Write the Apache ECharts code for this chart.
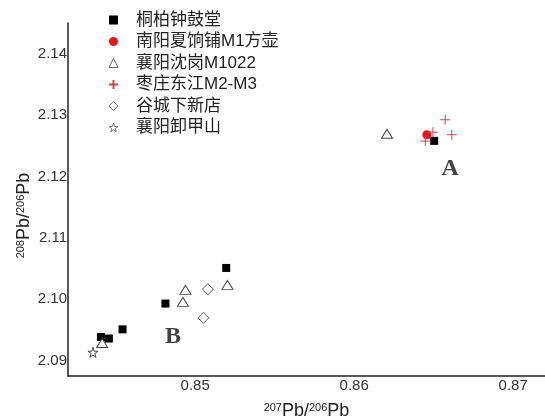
<!DOCTYPE html>
<html><head><meta charset="utf-8">
<script src="https://cdn.jsdelivr.net/npm/echarts@6/dist/echarts.min.js"></script>
<style>html,body{margin:0;padding:0;background:#fff}#c{width:545px;height:419px}</style>
</head><body><div id="c"></div>
<script>
var seriesNames = ['桐柏钟鼓堂','南阳夏饷铺M1方壶','襄阳沈岗M1022','枣庄东江M2-M3','谷城下新店','襄阳卸甲山'];
var tongbai = [[0.84407,2.09385],[0.84457,2.0936],[0.84543,2.0951],[0.84813,2.0993],[0.85195,2.1051],[0.86503,2.1258]];
var nanyang = [[0.86457,2.1268]];
var shengang = [[0.84939,2.10153],[0.84923,2.09958],[0.85203,2.10234],[0.84415,2.09287],[0.86206,2.12697]];
var zaozhuang = [[0.86572,2.12924],[0.86614,2.1268],[0.86495,2.12722],[0.86447,2.12576]];
var gucheng = [[0.8508,2.10164],[0.85052,2.09698]];
var xiejia = [[0.84357,2.09135]];
var groupLabels = [{name:'A',value:[0.86604,2.12128]},{name:'B',value:[0.8486,2.09394]}];
var xTickLabels = ['0.85','0.86','0.87'];
var yTickLabels = ['2.09','2.10','2.11','2.12','2.13','2.14'];
var xRange = {min:0.842,max:0.872,step:0.002};
var yRange = {min:2.0875,max:2.145,step:0.0025};

var starPath = 'path://M50,0 L61,35 L98,35 L68,57 L79,91 L50,70 L21,91 L32,57 L2,35 L39,35 Z';
var plusPath = 'path://M5,0 L5,10 M0,5 L10,5';
var fontLatin = "'Liberation Sans','Noto Sans CJK SC',sans-serif";

function tickFormatter(list){
  return function(v){
    var s = v.toFixed(2);
    return (Math.abs(v - parseFloat(s)) < 1e-6 && list.indexOf(s) >= 0) ? s : '';
  };
}

var chart = echarts.init(document.getElementById('c'));
chart.setOption({
  animation:false,
  backgroundColor:'#fff',
  grid:{left:68,right:0,top:23,bottom:43,containLabel:false,outerBoundsMode:'none'},
  legend:{
    orient:'vertical',left:103,top:5,itemWidth:9,itemHeight:9,itemGap:1.5,
    data:seriesNames.map(function(n,i){
      return i===5 ? {name:n,itemStyle:{borderWidth:0.7}} : (i===2||i===4 ? {name:n,itemStyle:{borderWidth:0.8}} : {name:n});
    }),
    textStyle:{fontSize:17,color:'#222',fontFamily:fontLatin,lineHeight:20,padding:[0,0,0,13]}
  },
  xAxis:{
    type:'value',min:xRange.min,max:xRange.max,interval:xRange.step,
    axisLine:{show:true,lineStyle:{color:'#222',width:1.5}},
    axisTick:{show:false},splitLine:{show:false},
    axisLabel:{showMinLabel:false,showMaxLabel:true,fontSize:15,color:'#333',fontFamily:fontLatin,margin:2,
      formatter:tickFormatter(xTickLabels)},
    name:'{s|207}{n|Pb/}{s|206}{n|Pb}',nameLocation:'middle',nameGap:26,
    nameTextStyle:{rich:{s:{fontSize:11,verticalAlign:'top',fontFamily:fontLatin,color:'#222'},n:{fontSize:18,verticalAlign:'top',fontFamily:fontLatin,color:'#222'}}}
  },
  yAxis:{
    type:'value',min:yRange.min,max:yRange.max,interval:yRange.step,
    axisLine:{show:true,lineStyle:{color:'#222',width:1.5}},
    axisTick:{show:false},splitLine:{show:false},
    axisLabel:{showMinLabel:false,showMaxLabel:false,fontSize:15,color:'#333',fontFamily:fontLatin,margin:1,
      formatter:tickFormatter(yTickLabels)},
    name:'{s|208}{n|Pb/}{s|206}{n|Pb}',nameLocation:'middle',nameGap:35,nameRotate:90,nameMoveOverlap:false,
    nameTextStyle:{padding:[0,32,0,0],rich:{s:{fontSize:11,verticalAlign:'top',fontFamily:fontLatin,color:'#222'},n:{fontSize:18,verticalAlign:'top',fontFamily:fontLatin,color:'#222'}}}
  },
  series:[
    {name:seriesNames[0],type:'scatter',data:tongbai,symbol:'rect',symbolSize:8,itemStyle:{color:'#000',opacity:1}},
    {name:seriesNames[1],type:'scatter',data:nanyang,symbol:'circle',symbolSize:9,itemStyle:{color:'#e8141c',opacity:1}},
    {name:seriesNames[2],type:'scatter',data:shengang,symbol:'triangle',symbolSize:[11,9],itemStyle:{color:'#fff',borderColor:'#444',borderWidth:1,opacity:1}},
    {name:seriesNames[3],type:'scatter',data:zaozhuang,symbol:plusPath,symbolSize:10,itemStyle:{color:'#d5404a',borderColor:'#d5404a',borderWidth:1,opacity:1}},
    {name:seriesNames[4],type:'scatter',data:gucheng,symbol:'diamond',symbolSize:11,itemStyle:{color:'#fff',borderColor:'#555',borderWidth:1,opacity:1}},
    {name:seriesNames[5],type:'scatter',data:xiejia,symbol:starPath,symbolSize:10,itemStyle:{color:'#fff',borderColor:'#444',borderWidth:1,opacity:1}},
    {name:'labels',type:'scatter',data:groupLabels,symbolSize:0,silent:true,
      label:{show:true,position:'inside',formatter:function(p){return p.name;},fontSize:24,fontWeight:'bold',color:'#111',fontFamily:"'Liberation Serif',serif"}}
  ]
});
</script></body></html>
